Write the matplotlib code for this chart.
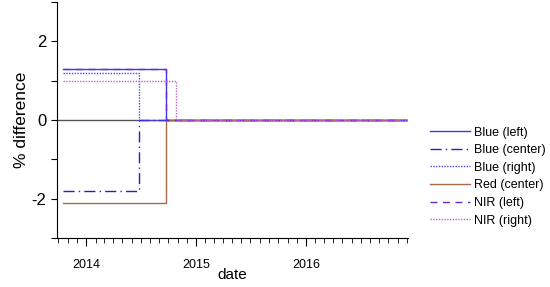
import matplotlib
matplotlib.use("Agg")
import matplotlib.pyplot as plt
import matplotlib.dates as mdates
import numpy as np

plt.rcParams['font.family'] = ['Liberation Sans', 'DejaVu Sans']

# series: name, value before the change, date of the change
names = ["Blue (left)", "Blue (center)", "Blue (right)", "Red (center)", "NIR (left)", "NIR (right)"]
before = [1.3, -1.8, 1.2, -2.1, 1.3, 1.0]
change = ["2014-09-23", "2014-06-24", "2014-06-24", "2014-09-23", "2014-09-23", "2014-10-25"]
start_date = "2013-10-15"
end_date = "2016-12-05"

colors = ["#3a3ae0", "#2020d0", "#4848f0", "#a8684a", "#6a2ad0", "#c060d8"]
styles = ["-", (0, (8, 3, 1, 3)), (0, (1, 1)), "-", (0, (5, 4)), (0, (1, 1))]

fig = plt.figure(figsize=(5.5, 2.87), dpi=100)
ax = fig.add_axes([0.1036, 0.171, 0.638, 0.822])

ax.axhline(0, color="#555555", lw=1.0, zorder=1)
for n, v, c, col, ls in zip(names, before, change, colors, styles):
    d = np.array([start_date, c, end_date], dtype="datetime64[D]")
    ax.plot(d, [v, 0, 0], drawstyle="steps-post", color=col, ls=ls, lw=1.0, label=n)

ax.set_ylim(-3, 3)
ax.set_xlim(np.datetime64("2013-09-26"), np.datetime64(end_date))
ax.set_yticks([-3, -2, -1, 0, 1, 2, 3])
ax.set_yticklabels(["", "-2", "", "0", "", "2", ""], fontsize=12)
ax.xaxis.set_major_locator(mdates.YearLocator())
ax.xaxis.set_major_formatter(mdates.DateFormatter("%Y"))
ax.xaxis.set_minor_locator(mdates.MonthLocator())
ax.tick_params(axis="x", which="major", length=6, pad=9, labelsize=9)
ax.tick_params(axis="x", which="minor", length=3.5)
ax.tick_params(axis="y", length=4)
for s in ["top", "right"]:
    ax.spines[s].set_visible(False)
ax.set_xlabel("date", fontsize=11, labelpad=-2)
ax.set_ylabel("% difference", fontsize=12.5, labelpad=2)

ax.legend(loc="center left", bbox_to_anchor=(1.031, 0.26), frameon=False, fontsize=9,
          handlelength=3.2, handletextpad=0.3, labelspacing=0.45)

fig.savefig("out.png", dpi=100)
